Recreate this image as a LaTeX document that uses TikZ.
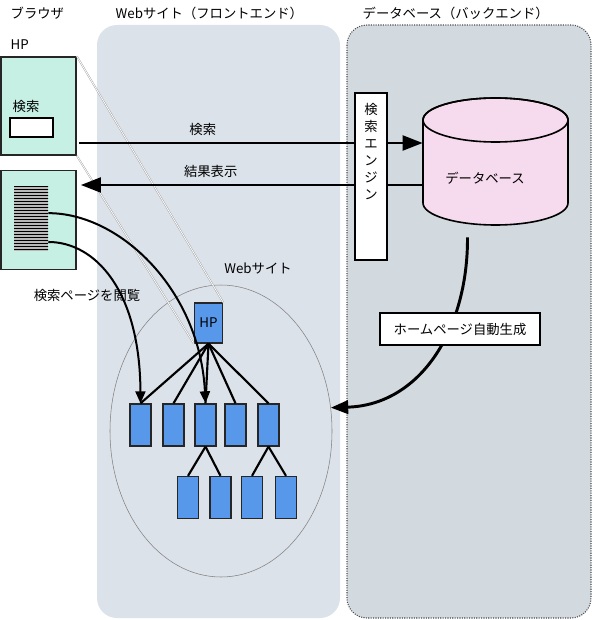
\documentclass[tikz,border=0pt]{standalone}
\usepackage{fontspec}
\setmainfont{Noto Sans CJK JP}
\usepackage{xcolor}
\usetikzlibrary{shapes.geometric, arrows.meta, positioning, calc}
\definecolor{mint}{RGB}{198,240,228}
\definecolor{dbpink}{RGB}{246,218,238}
\definecolor{pageblue}{RGB}{88,152,234}
\definecolor{frontgray}{RGB}{220,226,234}
\definecolor{backgray}{RGB}{210,218,224}
\tikzstyle{title} = [anchor=west, font=\fontsize{10}{12}\selectfont]
\tikzstyle{txt} = [font=\fontsize{10}{12}\selectfont]
\tikzstyle{browser} = [rectangle, draw=black!85, line width=1.2pt, fill=mint, minimum width=56.25pt]
\tikzstyle{page} = [rectangle, draw=black!85, line width=1pt, fill=pageblue, inner sep=0pt, minimum width=15.75pt, minimum height=31.5pt]
\tikzstyle{whitebox} = [rectangle, draw=black, line width=1.2pt, fill=white, inner sep=0pt]
\tikzstyle{bigarrow} = [line width=2.2pt, -{Triangle[length=15pt, width=11pt]}]
\tikzstyle{arrow} = [line width=1.5pt, -{Triangle[length=9pt, width=7.5pt]}]
\tikzstyle{tree} = [line width=1.6pt]
\tikzstyle{zoomline} = [draw=gray!80, double=white, line width=0.3pt, double distance=0.6pt]
\tikzstyle{dbend} = [x radius=54.375pt, y radius=16.5pt]

\begin{document}
\begin{tikzpicture}[x=0.75pt, y=-0.75pt]
\useasboundingbox (0,0) rectangle (593,620);

% panels
\fill[frontgray, rounded corners=15pt] (97,25) rectangle (340,618);
\filldraw[fill=backgray, draw=black!70, densely dotted, line width=0.8pt, rounded corners=15pt] (347,25) rectangle (591,618);

\node[title] (tbrowser) at (6,13) {ブラウザ};
\node[title] (tfront) at (111,13) {Webサイト（フロントエンド）};
\node[title] (tback) at (358,13) {データベース（バックエンド）};

% browser
\node[title] (hplabel) at (6,45) {HP};
\node (brw1) [browser, minimum height=73.5pt] at (38.5,106) {};
\node[txt] (kensaku) at (26,106) {検索};
\node (input) [whitebox, minimum width=32.25pt, minimum height=14.25pt] at (31.5,127.5) {};
\node (brw2) [browser, minimum height=74.25pt] at (38.5,220) {};
\node (stripe) [rectangle, fill=gray!55, inner sep=0pt, minimum width=25.5pt, minimum height=48.75pt,
  path picture={\foreach \k in {0,2.25,...,48} \draw[black, line width=0.9pt]
    ($(path picture bounding box.north west)+(0,-\k pt-0.6pt)$) -- ++(26pt,0);}] at (31,218.5) {};

% web site
\node (site) [ellipse, draw=gray, line width=0.4pt, minimum width=166.5pt, minimum height=219pt, inner sep=0pt] at (221,431) {};
\node[txt] (sitelabel) at (258,268) {Webサイト};
\node (hp) [page, minimum width=21pt, minimum height=30pt, font=\fontsize{10}{12}\selectfont] at (208.5,323) {HP};
\node (p1) [page] at (140.5,425) {};
\node (p2) [page] at (173.5,425) {};
\node (p3) [page] at (205.5,425) {};
\node (p4) [page] at (235.5,425) {};
\node (p5) [page] at (268.5,425) {};
\node (p31) [page] at (188,497.5) {};
\node (p32) [page] at (220.5,497.5) {};
\node (p51) [page] at (252,497.5) {};
\node (p52) [page] at (286,497.5) {};

\draw [zoomline] (brw1.north east) -- (hp.north east);
\draw [zoomline] (brw1.south east) -- (hp.south west);

\draw [tree] (hp.south) -- (p1.north);
\draw [tree] (hp.south) -- (p2.north);
\draw [tree] (hp.south) -- (p3.north);
\draw [tree] (hp.south) -- (p4.north);
\draw [tree] (hp.south) -- (p5.north);
\draw [tree] (p3.south) -- (p31.north);
\draw [tree] (p3.south) -- (p32.north);
\draw [tree] (p5.south) -- (p51.north);
\draw [tree] (p5.south) -- (p52.north);

% database
\node (db) [rectangle, inner sep=0pt, minimum width=108.75pt, minimum height=95.25pt] at (495.5,161.5) {};
\filldraw[fill=dbpink, line width=1.2pt] (423,120) -- (423,203) arc[start angle=180, end angle=360, dbend]
  -- (568,120) arc[start angle=0, end angle=180, dbend] -- cycle;
\draw[line width=1.2pt] (495.5,120) ellipse [dbend];
\node[txt] (dblabel) at (485,178) {データベース};

% search and result
\coordinate (s1) at ($(brw1.east)+(2,37)$);
\coordinate (r1) at ($(brw2.east)+(4,-35)$);
\draw [bigarrow] (s1) -- (s1 -| db.west) node[txt, midway, above=1pt, xshift=-36pt] {検索};
\draw [bigarrow] (r1 -| db.west) -- (r1) node[txt, pos=0.62, above=1pt] {結果表示};

\node (engine) [whitebox, minimum width=24pt, minimum height=125.25pt] at (371,176.5) {};
\node[below=8pt of engine.north, align=center, inner sep=0pt, font=\fontsize{10}{12.75}\selectfont] (enginetext) {検\\索\\エ\\ン\\ジ\\ン};

% browsing
\draw [arrow] ([yshift=4pt]stripe.east) .. controls (120,213) and (200,290) .. (p3.north);
\draw [arrow] ([yshift=-17.6pt]stripe.east) .. controls (95,242) and (140,290) .. (p1.north);
\node[txt] (browse) at (87,295) {検索ページを閲覧};

% generate
\draw [line width=2.2pt, -{Triangle[length=13pt, width=10pt]}] ([xshift=-21pt, yshift=-9pt]db.south) .. controls (468,330) and (420,405) .. (site.12);
\node (gen) [whitebox, minimum width=120pt, minimum height=24pt, font=\fontsize{10}{12}\selectfont] at (460,329) {ホームページ自動生成};

\end{tikzpicture}
\end{document}
